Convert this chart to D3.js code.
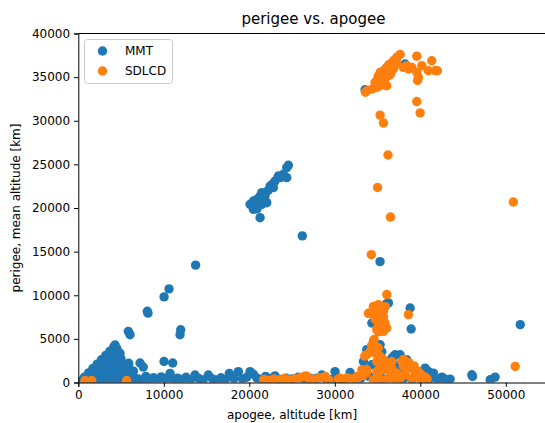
<!DOCTYPE html>
<html>
<head>
<meta charset="utf-8">
<script src="https://cdn.jsdelivr.net/npm/d3@7"></script>
<style>
  html, body { margin: 0; padding: 0; background: #fff; }
  svg { display: block; font-family: "DejaVu Sans", sans-serif; }
</style>
</head>
<body>
<svg id="chart" width="545" height="423"></svg>
<script>
// Satellite orbits: [apogee km, perigee km] per class of user
const seriesNames = ["MMT", "SDLCD"];
const seriesColors = ["#1f77b4", "#ff7f0e"];

const mmtPoints = [
  // low orbits, perigee <= apogee
  [300,150],[900,150],[1500,150],[2100,150],[2700,150],[3300,150],[3900,150],[4500,150],[5100,150],[5700,150],[6300,150],
  [700,600],[1300,600],[1900,600],[2500,600],[3100,600],[3700,600],[4300,600],[4900,600],[5500,600],[6100,600],[6600,500],
  [1200,1100],[1800,1100],[2400,1100],[3000,1100],[3600,1100],[4200,1100],[4800,1100],[5400,1100],[6000,1100],[6450,1300],
  [1700,1600],[2300,1600],[2900,1600],[3500,1600],[4100,1600],[4700,1600],[5300,1600],[5900,1700],
  [2200,2100],[2800,2100],[4000,2100],[4600,2100],[5200,2100],[5900,2200],
  [2700,2600],[3300,2600],[3900,2600],[4500,2600],[5000,2700],
  [3200,3100],[3800,3100],[4400,3100],[4880,3350],
  [3700,3600],[4200,3600],[4500,3900],
  [4150,4100],[4300,4300],
  [5850,5860],[6050,5480],[7220,2230],[7600,1770],[8070,8160],[8150,7950],
  [10030,9810],[10610,10730],[11980,6050],[11900,5480],[10030,2410],[11040,2230],[13720,13450],
  // band of near-circular orbits
  [7000,400],[7500,250],[7900,700],[8300,350],[8800,550],[9300,300],[9700,650],[10200,400],[10730,1050],
  [11100,300],[11600,500],[12100,350],[12600,600],[13100,300],[13650,860],[14100,450],[14600,300],
  [15210,860],[15700,400],[16200,300],[16700,550],[17200,350],[17670,1050],[18200,450],[18720,1240],
  [19200,400],[19700,600],[20090,1240],[20480,950],[20900,500],[21400,350],[21900,700],[22400,450],
  [23000,760],[23600,350],[24300,500],[25000,400],[25700,600],[26400,350],[27100,500],[27800,450],
  [28480,860],[29000,400],[29600,350],[30030,1240],[30600,450],[31200,350],[31790,1150],[32400,500],[33000,400],
  // medium earth orbits
  [24570,24900],[24380,24630],[23990,23870],[23400,23670],[24380,23480],[23010,23090],[22700,22720],
  [22430,22520],[22820,22340],[21460,21760],[21260,21370],[21840,21370],[20870,20990],[22040,20610],
  [20480,20800],[20090,20420],[20670,20220],[21060,20610],[21460,20420],[20480,19840],[21260,18890],
  [21600,21000],[20900,19900],[23700,23500],[22200,22000],
  [26200,16800],
  // around geosynchronous altitude
  [33350,2410],[33740,3760],[34330,2030],[34520,4710],[34330,6820],[35300,4330],[35500,3530],
  [36270,9120],[36080,9040],[36670,2800],[36860,2990],[37050,3180],[37640,3180],[37050,2010],[37250,1050],
  [37640,1650],[38420,2610],[38810,8540],[38930,6130],[40360,1260],[40950,1260],[41340,880],[41540,1080],
  [42520,620],[42700,500],[43490,390],[40570,1650],[39500,1000],[34000,700],[35500,500],[36500,600],
  [38000,400],[39000,350],[40000,500],[41000,300],[42000,350],[43000,300],
  [35290,13850],[33540,33550],[38220,36500],
  // highly elliptical
  [46030,885],[46100,700],[48170,310],[48750,620],[51690,6630]
];

const sdlcdPoints = [
  [780,230],[1560,230],[5660,230],
  // circular band
  [21700,350],[22300,250],[22900,400],[23500,300],[24100,450],[24700,300],[25300,400],[25900,550],
  [26400,700],[26660,760],[27000,450],[27600,350],[28200,550],[28900,680],[29300,300],
  [30400,400],[31000,300],[31600,500],[32200,400],[32800,600],[33300,800],[33700,1100],
  [34500,300],[35200,400],[36000,300],[36800,500],[37300,300],
  // spike near geosynchronous apogee
  [36080,10080],[34520,8730],[35100,8930],[34910,8690],[33930,7930],[34130,7970],[34910,7970],[35690,8160],
  [35500,7200],[35880,6820],[35100,6630],[35300,6060],[35690,5860],[36080,6250],[34910,6060],
  [35300,7600],[35700,7500],[34700,7300],[35900,8700],[35500,6400],[35100,5800],
  [38610,7780],[34520,4530],[34600,4930],[34130,3560],[33740,3180],[34710,3380],[35100,3950],[35300,2990],
  [34910,2410],[35300,1840],[34910,1260],[35100,690],[35690,1460],[36270,1840],[36670,2410],[36470,1080],
  [37250,1080],[37840,2410],[38030,1840],[38810,1650],[39390,1260],[39980,880],[40570,620],[38220,880],
  [37640,500],[33740,1460],[33350,1080],[32570,690],[31400,500],[30620,500],[33160,1460],[33500,3030],
  [35000,3980],[38050,2650],[38670,2270],[39270,1900],[39680,1330],[40090,950],[40500,570],
  [39000,500],[40000,350],[40800,400],[36700,1600],[35700,2600],[34300,4200],
  // geosynchronous
  [37640,37600],[37250,37270],[36860,36880],[36470,36500],[36080,36120],[35690,35730],[35300,35550],
  [35100,35160],[35500,34980],[35880,34780],[36270,35160],[36670,35730],[35690,34400],[36080,34010],
  [35300,34010],[34910,33830],[34330,33630],[33740,33440],[33580,33270],[34710,34400],[35300,34590],
  [36000,35400],[36400,35900],[37000,36400],[35800,35200],[36500,35300],[36900,36000],[37200,36800],
  [35900,35900],[36300,36400],[35000,34800],[35500,34200],[34900,34100],
  [38420,36310],[39010,36120],[39590,37400],[40180,36310],[39590,35550],[39790,34980],[39680,34620],
  [40950,35730],[41340,36880],[41730,35730],[42000,35730],[38030,36120],[38610,35930],
  [39590,32200],[39980,30900],[35300,30650],[35690,29750],
  // scattered
  [36220,26080],[35000,22350],[50880,20690],[36510,18960],[34270,14650],[51100,1840]
];

const xTicks = [0, 10000, 20000, 30000, 40000, 50000];
const yTicks = [0, 5000, 10000, 15000, 20000, 25000, 30000, 35000, 40000];

(function draw() {
  const svg = d3.select("#chart");
  const mLeft = 78.3, mTop = 33.5, mBottom = 382.5;
  const mRight = mLeft + 55000 / 10000 * 85.5;

  const x = d3.scaleLinear().domain([0, 55000]).range([mLeft, mRight]);
  const y = d3.scaleLinear().domain([0, 40000]).range([mBottom, mTop]);

  svg.append("defs").append("clipPath").attr("id", "plotClip")
    .append("rect").attr("x", mLeft).attr("y", mTop)
    .attr("width", mRight - mLeft).attr("height", mBottom - mTop);

  const r = 4.7;
  const plot = svg.append("g").attr("clip-path", "url(#plotClip)");
  [mmtPoints, sdlcdPoints].forEach((pts, i) => {
    plot.append("g").selectAll("circle").data(pts).join("circle")
      .attr("cx", d => x(d[0])).attr("cy", d => y(d[1]))
      .attr("r", r).attr("fill", seriesColors[i]);
  });

  // axes
  const xAxis = svg.append("g").attr("transform", `translate(0,${mBottom})`)
    .call(d3.axisBottom(x).tickValues(xTicks).tickFormat(d3.format("d")).tickSizeOuter(0).tickSize(4.2).tickPadding(4));
  const yAxis = svg.append("g").attr("transform", `translate(${mLeft},0)`)
    .call(d3.axisLeft(y).tickValues(yTicks).tickFormat(d3.format("d")).tickSizeOuter(0).tickSize(4.2).tickPadding(4));
  [xAxis, yAxis].forEach(a => {
    a.selectAll("text").attr("font-size", 12).attr("fill", "#000").attr("font-family", "DejaVu Sans");
    a.selectAll("line").attr("stroke", "#000").attr("stroke-width", 1);
    a.select(".domain").attr("stroke", "#000").attr("stroke-width", 1);
  });
  // top spine
  svg.append("line").attr("x1", mLeft).attr("x2", mRight).attr("y1", mTop).attr("y2", mTop)
    .attr("stroke", "#000").attr("stroke-width", 1);

  // title and labels
  svg.append("text").attr("x", (mLeft + mRight) / 2).attr("y", 23.5)
    .attr("text-anchor", "middle").attr("font-size", 15).attr("fill", "#000")
    .text("perigee vs. apogee");
  svg.append("text").attr("x", 292).attr("y", 419)
    .attr("text-anchor", "middle").attr("font-size", 12).attr("fill", "#000")
    .text("apogee, altitude [km]");
  svg.append("text").attr("transform", `translate(20,${(mTop + mBottom) / 2}) rotate(-90)`)
    .attr("text-anchor", "middle").attr("font-size", 12).attr("fill", "#000")
    .text("perigee, mean altitude [km]");

  // legend
  const lg = svg.append("g");
  lg.append("rect").attr("x", 84.5).attr("y", 39.5).attr("width", 88).attr("height", 44)
    .attr("rx", 3).attr("fill", "#fff").attr("fill-opacity", 0.8)
    .attr("stroke", "#ccc").attr("stroke-width", 1);
  seriesNames.forEach((name, i) => {
    const cy = 51 + i * 20;
    lg.append("circle").attr("cx", 102.5).attr("cy", cy).attr("r", r).attr("fill", seriesColors[i]);
    lg.append("text").attr("x", 125).attr("y", cy).attr("dy", "0.36em")
      .attr("font-size", 12).attr("fill", "#000").text(name);
  });
})();
</script>
</body>
</html>
